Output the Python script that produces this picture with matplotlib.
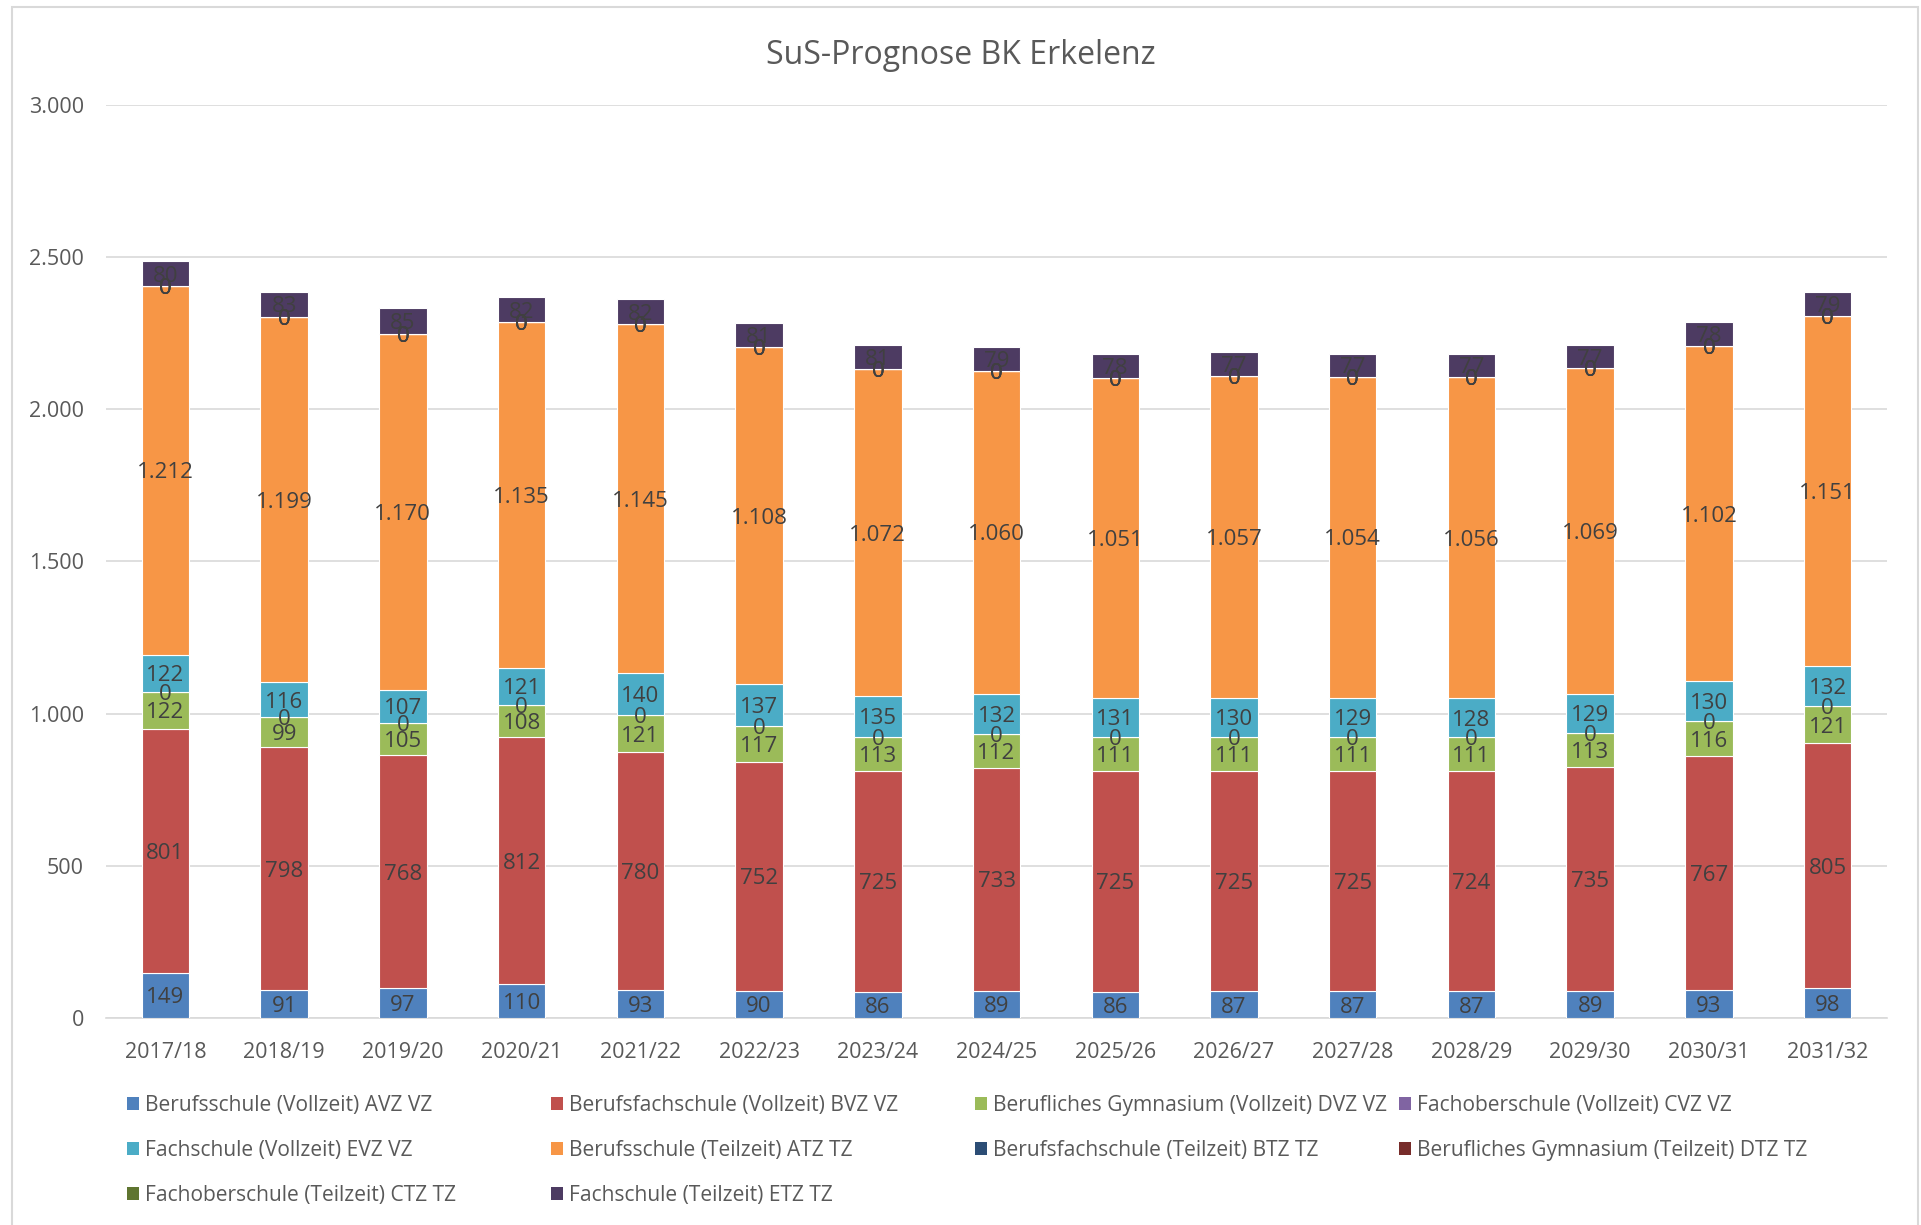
import matplotlib.pyplot as plt
from matplotlib.patches import Rectangle, Patch

plt.rcParams['font.family'] = ['Open Sans', 'DejaVu Sans']

years = ['2017/18', '2018/19', '2019/20', '2020/21', '2021/22', '2022/23', '2023/24', '2024/25',
         '2025/26', '2026/27', '2027/28', '2028/29', '2029/30', '2030/31', '2031/32']

avz = [149, 91, 97, 110, 93, 90, 86, 89, 86, 87, 87, 87, 89, 93, 98]
bvz = [801, 798, 768, 812, 780, 752, 725, 733, 725, 725, 725, 724, 735, 767, 805]
dvz = [122, 99, 105, 108, 121, 117, 113, 112, 111, 111, 111, 111, 113, 116, 121]
cvz = [0] * 15
evz = [122, 116, 107, 121, 140, 137, 135, 132, 131, 130, 129, 128, 129, 130, 132]
atz = [1212, 1199, 1170, 1135, 1145, 1108, 1072, 1060, 1051, 1057, 1054, 1056, 1069, 1102, 1151]
btz = [0] * 15
dtz = [0] * 15
ctz = [0] * 15
etz = [80, 83, 85, 82, 82, 81, 81, 79, 78, 77, 77, 77, 77, 78, 79]

series = [
    ('Berufsschule (Vollzeit) AVZ VZ', avz, '#4F81BD'),
    ('Berufsfachschule (Vollzeit) BVZ VZ', bvz, '#C0504D'),
    ('Berufliches Gymnasium (Vollzeit) DVZ VZ', dvz, '#9BBB59'),
    ('Fachoberschule (Vollzeit) CVZ VZ', cvz, '#8064A2'),
    ('Fachschule (Vollzeit) EVZ VZ', evz, '#4BACC6'),
    ('Berufsschule (Teilzeit) ATZ TZ', atz, '#F79646'),
    ('Berufsfachschule (Teilzeit) BTZ TZ', btz, '#2C4D75'),
    ('Berufliches Gymnasium (Teilzeit) DTZ TZ', dtz, '#772C2A'),
    ('Fachoberschule (Teilzeit) CTZ TZ', ctz, '#5F7530'),
    ('Fachschule (Teilzeit) ETZ TZ', etz, '#4D3B62'),
]

txt = '#404040'
grey = '#595959'

fig = plt.figure(figsize=(19.21, 12.25), dpi=100)
ax = fig.add_axes([0.0552, 0.169, 0.9271, 0.7453])

x = list(range(len(years)))
bottom = [0] * len(years)
for name, vals, col in series:
    ax.bar(x, vals, 0.4, bottom=bottom, color=col, edgecolor='white', linewidth=0.8, label=name, zorder=3)
    for i, v in enumerate(vals):
        lab = f'{v:,}'.replace(',', '.')
        ax.text(x[i], bottom[i] + v / 2, lab, ha='center', va='center_baseline', fontsize=16, color=txt, zorder=4)
    bottom = [b + v for b, v in zip(bottom, vals)]

ax.set_xlim(-0.5, len(years) - 0.5)
ax.set_ylim(0, 3000)
ax.set_yticks(range(0, 3001, 500))
ax.set_yticklabels([f'{t:,}'.replace(',', '.') for t in range(0, 3001, 500)])
ax.set_xticks(x)
ax.set_xticklabels(years)
ax.tick_params(length=0, labelsize=15.5, labelcolor=grey)
ax.tick_params(axis='y', pad=16)
ax.tick_params(axis='x', pad=17)
ax.grid(axis='y', color='#D9D9D9', linewidth=1.2, zorder=0)
for s in ['top', 'right', 'left']:
    ax.spines[s].set_visible(False)
ax.spines['bottom'].set_color('#D9D9D9')
ax.spines['bottom'].set_linewidth(1.2)

fig.text(0.5, 0.955, 'SuS-Prognose BK Erkelenz', ha='center', va='center', fontsize=23, color=grey)

# legend: four columns, filled row by row like the original
cols_x = [0.066, 0.2867, 0.5074, 0.7281]
for c in range(4):
    items = [series[k] for k in range(c, len(series), 4)]
    handles = [Patch(facecolor=col) for _, _, col in items]
    fig.legend(handles, [n for n, _, _ in items], loc='upper left',
               bbox_to_anchor=(cols_x[c], 0.1065), frameon=False, fontsize=15.1,
               labelcolor=grey, handlelength=0.58, handleheight=0.58, handletextpad=0.3,
               labelspacing=1.16, borderaxespad=0, borderpad=0)

fig.patches.append(Rectangle((12 / 1921, -0.01), (1918 - 12) / 1921, 1 - 7 / 1225 + 0.01,
                             transform=fig.transFigure, fill=False, edgecolor='#D9D9D9', linewidth=1.5))

fig.savefig('out.png', dpi=100)
